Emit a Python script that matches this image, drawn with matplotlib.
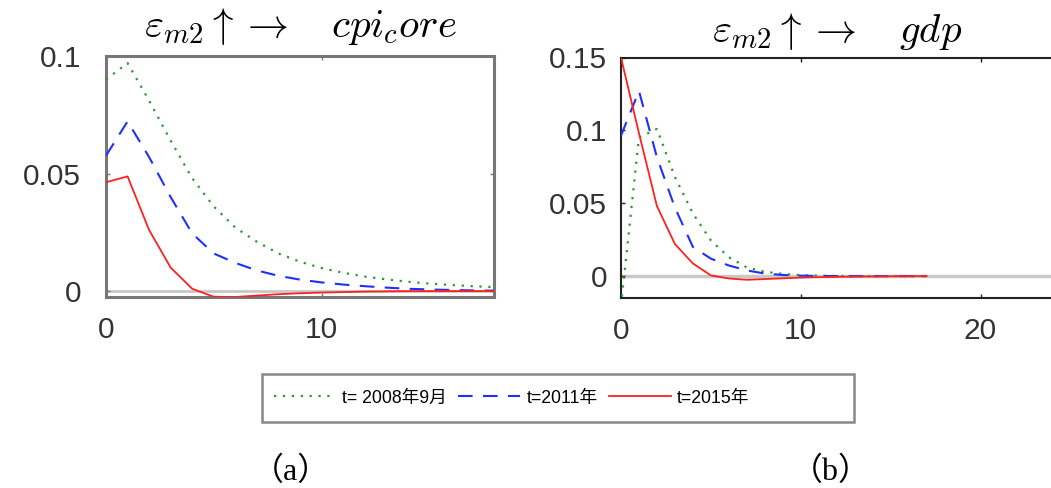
import matplotlib
matplotlib.use("Agg")
import matplotlib.pyplot as plt
from matplotlib.patches import Rectangle
import numpy as np

plt.rcParams['mathtext.fontset'] = 'cm'

# ---- data ----
x_left = list(range(19))
cpi_2008 = [0.090, 0.0970, 0.081, 0.064, 0.048, 0.036, 0.027, 0.021, 0.016, 0.0125,
            0.0098, 0.0078, 0.0062, 0.0050, 0.0040, 0.0032, 0.0026, 0.0021, 0.0017]
cpi_2011 = [0.0576, 0.0722, 0.057, 0.040, 0.0245, 0.016, 0.012, 0.0088, 0.0065, 0.0049,
            0.0037, 0.0028, 0.0021, 0.0015, 0.0010, 0.0007, 0.0005, 0.0003, 0.0002]
cpi_2015 = [0.0463, 0.0488, 0.026, 0.010, 0.0010, -0.0024, -0.0025, -0.0019, -0.0013, -0.0009,
            -0.0006, -0.0004, -0.0002, -0.0001, 0.0, 0.0, 0.0, 0.0, 0.0]

x_right = list(range(18))
gdp_2008 = [-0.02, 0.095, 0.101, 0.068, 0.043, 0.0245, 0.013, 0.006, 0.003, 0.0015,
            0.0007, 0.0003, 0.0001, 0.0, 0.0, 0.0, 0.0, 0.0]
gdp_2011 = [0.0964, 0.127, 0.0815, 0.047, 0.020, 0.012, 0.0073, 0.0039, 0.0018, 0.0008,
            0.0003, 0.0001, 0.0, 0.0, 0.0, 0.0, 0.0, 0.0]
gdp_2015 = [0.150, 0.098, 0.048, 0.022, 0.0087, 0.0005, -0.0016, -0.0025, -0.0020, -0.0015,
            -0.0010, -0.0007, -0.0005, -0.0003, -0.0002, -0.0001, 0.0, 0.0]

labels = ['t= 2008年9月', 't=2011年', 't=2015年']
titles = [r'$\varepsilon_{m2}\uparrow\rightarrow\quad cpi_core$',
          r'$\varepsilon_{m2}\uparrow\rightarrow\quad gdp$']
left_yticks = [0, 0.05, 0.1]
left_yticklabels = ['0', '0.05', '0.1']
right_yticks = [0, 0.05, 0.1, 0.15]
right_yticklabels = ['0', '0.05', '0.1', '0.15']
xticks_left = [0, 10]
xticks_right = [0, 10, 20]
captions = ['（a）', '（b）']

W, H = 1051, 488
fig = plt.figure(figsize=(W / 100, H / 100), dpi=100)

def box(l, t, r, b):
    return [l / W, 1 - b / H, (r - l) / W, (b - t) / H]

ax1 = fig.add_axes(box(106, 56, 494, 297))
ax2 = fig.add_axes(box(621, 57.5, 1056, 298))

green = '#2e9a2e'
blue = '#1f2fff'
red = '#ff2020'

def style(ax, spine_color, spine_lw, ypad, right=True):
    for s in ax.spines.values():
        s.set_color(spine_color)
        s.set_linewidth(spine_lw)
    ax.tick_params(direction='in', length=3, width=1, top=True, right=right,
                   colors=spine_color)
    ax.tick_params(axis='x', pad=14)
    ax.tick_params(axis='y', pad=ypad)
    for lab in ax.get_xticklabels() + ax.get_yticklabels():
        lab.set_fontfamily('Liberation Sans')
        lab.set_fontsize(21.5)
        lab.set_color('#333333')

# Left panel
ax1.axhline(0, color='#c8c8c8', lw=2, zorder=1)
l1, = ax1.plot(x_left, cpi_2008, color=green, ls=(0, (1, 3)), lw=1.6, zorder=3)
l2, = ax1.plot(x_left, cpi_2011, color=blue, ls=(0, (7, 5)), lw=1.5, zorder=3)
l3, = ax1.plot(x_left, cpi_2015, color=red, ls='-', lw=1.3, zorder=3)
ax1.set_xlim(0, 18)
ax1.set_ylim(-0.0025, 0.1)
ax1.set_xticks(xticks_left)
ax1.set_xticklabels([str(v) for v in xticks_left])
ax1.set_yticks(left_yticks)
ax1.set_yticklabels(left_yticklabels)
style(ax1, '#777777', 2.2, 18)

# Right panel
ax2.axhline(0, color='#c8c8c8', lw=2.5, zorder=1)
ax2.plot(x_right, gdp_2008, color=green, ls=(0, (1, 3)), lw=1.6, zorder=3)
ax2.plot(x_right, gdp_2011, color=blue, ls=(0, (7, 5)), lw=1.5, zorder=3)
ax2.plot(x_right, gdp_2015, color=red, ls='-', lw=1.3, zorder=3)
ax2.set_xlim(0, 24.2)
ax2.set_ylim(-0.015, 0.15)
ax2.set_xticks(xticks_right)
ax2.set_xticklabels([str(v) for v in xticks_right])
ax2.set_yticks(right_yticks)
ax2.set_yticklabels(right_yticklabels)
style(ax2, '#222222', 1.5, 10, right=False)

# Titles
fig.text(300 / W, 1 - 37 / H, titles[0], ha='center', va='baseline', fontsize=29.5)
fig.text(837 / W, 1 - 42 / H, titles[1], ha='center', va='baseline', fontsize=29.5)

# Legend (frame drawn separately)
leg = fig.legend([l1, l2, l3], labels, ncol=3, loc='center left',
                 bbox_to_anchor=(262 / W, 1 - 398 / H),
                 prop={'family': ['Liberation Sans', 'Noto Sans CJK SC'], 'size': 12.7},
                 frameon=False, handlelength=3.5, columnspacing=0.65,
                 handletextpad=0.35, borderpad=0.2)
fig.patches.append(Rectangle((262 / W, 1 - 422 / H), (854 - 262) / W, (422 - 374) / H,
                             transform=fig.transFigure, fill=False,
                             edgecolor='#888888', linewidth=1.8))

# Captions
for cx, cap in zip([291, 831], captions):
    fig.text(cx / W, 1 - 472 / H, cap, ha='center', va='center',
             fontsize=23, family=['Liberation Serif', 'Noto Sans CJK SC'])

fig.savefig('out.png', dpi=100)
